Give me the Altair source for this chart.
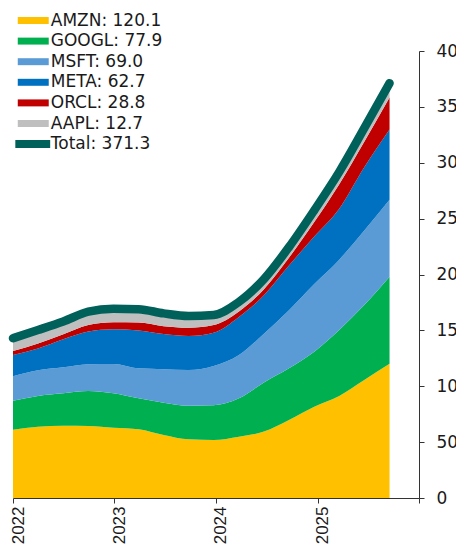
import altair as alt
import pandas as pd

# ---- data ----
dates = ["2022-01-01", "2022-04-01", "2022-07-01", "2022-09-29", "2022-12-28",
         "2023-03-29", "2023-06-27", "2023-09-25", "2023-12-24", "2024-03-24",
         "2024-06-22", "2024-09-20", "2024-12-20", "2025-03-20", "2025-06-18",
         "2025-09-17"]
names = ["AMZN", "GOOGL", "MSFT", "META", "ORCL", "AAPL"]
amzn = [61.0, 63.8, 64.7, 64.4, 62.9, 61.6, 56.4, 52.5, 51.9, 54.9, 59.4, 69.8, 81.7, 91.3, 105.6, 120.1]
googl = [26.0, 27.5, 29.0, 31.3, 30.8, 27.6, 28.9, 30.1, 31.1, 34.3, 44.0, 46.2, 49.2, 59.0, 67.0, 77.9]
msft = [22.0, 23.0, 23.3, 24.0, 26.2, 26.8, 29.9, 31.9, 35.1, 38.8, 43.5, 52.0, 60.5, 63.0, 66.8, 69.0]
meta = [19.0, 19.5, 25.0, 29.2, 31.1, 34.0, 31.6, 30.5, 29.8, 34.0, 34.5, 40.0, 42.5, 45.5, 56.5, 62.7]
orcl = [3.5, 4.5, 4.5, 6.0, 6.2, 7.0, 7.0, 7.4, 6.9, 5.0, 5.5, 7.0, 13.0, 22.0, 23.0, 28.8]
aapl = [11.5, 12.0, 11.5, 11.8, 12.2, 12.0, 11.4, 10.5, 9.0, 8.5, 9.0, 9.5, 10.5, 11.0, 12.0, 12.7]
latest = [120.1, 77.9, 69.0, 62.7, 28.8, 12.7]
total_latest = 371.3
colors = ["#FFC000", "#00B050", "#5B9BD5", "#0070C0", "#C00000", "#BFBFBF"]
total_color = "#00605A"

series = [amzn, googl, msft, meta, orcl, aapl]
labels = [f"{n}: {v:.1f}" for n, v in zip(names, latest)]
total_label = f"Total: {total_latest:.1f}"

rows = []
for i, (lab, vals) in enumerate(zip(labels, series)):
    for d, v in zip(dates, vals):
        rows.append({"date": d, "label": lab, "value": v, "ord": i})
df = pd.DataFrame(rows)

totals = [round(sum(s[k] for s in series), 2) for k in range(len(dates))]
tdf = pd.DataFrame({"date": dates, "total": totals, "tlabel": total_label})

x_scale = alt.Scale(domain=[alt.DateTime(year=2022, month=1, date=1),
                            alt.DateTime(year=2026, month=1, date=1)])
x_axis = alt.Axis(
    values=[alt.DateTime(year=y, month=1, date=1) for y in range(2022, 2027)],
    format="%Y", labelAngle=270, labelFont="Liberation Sans", labelFontSize=17,
    labelColor="#1a1a1a", labelPadding=3, labelOffset=5, tickSize=5, tickColor="#333333",
    domainColor="#333333", grid=False, title=None,
    labelExpr="year(datum.value) == 2026 ? '' : datum.label",
)
y_axis = alt.Axis(
    orient="right", values=list(range(0, 401, 50)), labelFont="DejaVu Sans",
    labelFontSize=17, labelColor="#1a1a1a", labelPadding=12, tickSize=5,
    tickColor="#333333", domainColor="#333333", grid=False, title=None,
)

area = alt.Chart(df).mark_area(interpolate="monotone").encode(
    x=alt.X("date:T", scale=x_scale, axis=x_axis),
    y=alt.Y("value:Q", stack="zero", scale=alt.Scale(domain=[0, 400]), axis=y_axis),
    color=alt.Color(
        "label:N",
        scale=alt.Scale(domain=labels, range=colors),
        legend=alt.Legend(
            orient="none", legendX=11.75, legendY=-39.0, title=None,
            symbolType="M-2,-0.45H2V0.45H-2Z", symbolSize=240, symbolStrokeWidth=0,
            labelFont="DejaVu Sans", labelFontSize=17, labelColor="#1a1a1a",
            labelOffset=9, rowPadding=2.6, padding=0,
        ),
    ),
    order=alt.Order("ord:Q", sort="ascending"),
)

line = alt.Chart(tdf).mark_line(interpolate="monotone", strokeWidth=8.5, strokeCap="round").encode(
    x=alt.X("date:T", scale=x_scale, axis=x_axis),
    y=alt.Y("total:Q", scale=alt.Scale(domain=[0, 400]), axis=y_axis),
    stroke=alt.Stroke(
        "tlabel:N",
        scale=alt.Scale(domain=[total_label], range=[total_color]),
        legend=alt.Legend(
            orient="none", legendX=7.75, legendY=81.0, title=None,
            symbolType="M-2.25,0H2.25", symbolSize=240, symbolStrokeWidth=8,
            labelFont="DejaVu Sans", labelFontSize=17, labelColor="#1a1a1a",
            labelOffset=6, padding=0,
        ),
    ),
)

chart = alt.layer(area, line).properties(
    width=406, height=447,
    autosize=alt.AutoSizeParams(type="none"),
    padding={"left": 5, "top": 43, "right": 37, "bottom": 48},
).configure_view(stroke=None)

chart.save("out.html", embed_options={"renderer": "svg", "actions": False})
